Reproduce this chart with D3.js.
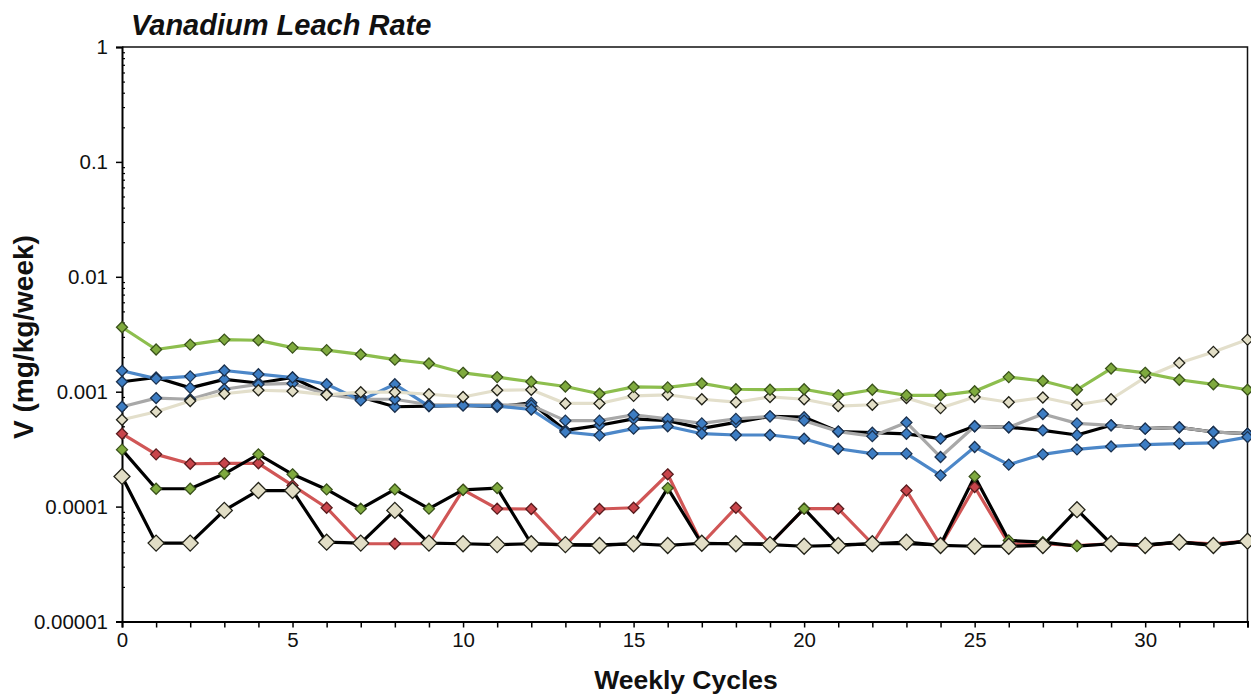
<!DOCTYPE html>
<html>
<head>
<meta charset="utf-8">
<script src="https://cdn.jsdelivr.net/npm/d3@7"></script>
<style>
  html, body { margin: 0; padding: 0; background: #fff; }
  svg { display: block; }
  text { font-family: "Liberation Sans", Arial, sans-serif; }
</style>
</head>
<body>
<svg id="chart" width="1251" height="698"></svg>
<script>
// Weekly cycle numbers 0..33
const cycles = [0,1,2,3,4,5,6,7,8,9,10,11,12,13,14,15,16,17,18,19,20,21,22,23,24,25,26,27,28,29,30,31,32,33];

// Leach rate series (mg/kg/week)
const greenSeries = [0.00364,0.00233,0.00257,0.00284,0.00280,0.00242,0.00230,0.00211,0.00190,0.00176,0.00146,0.00134,0.00122,0.00111,0.00096,0.00110,0.00109,0.00118,0.00105,0.00104,0.00105,0.00093,0.00104,0.00093,0.00093,0.00101,0.00134,0.00124,0.00104,0.00159,0.00146,0.00127,0.00116,0.00104];
const beigeSeries = [0.00057,0.00067,0.00083,0.00096,0.00103,0.00101,0.00094,0.00099,0.00099,0.00095,0.00090,0.00103,0.00104,0.00079,0.00079,0.00092,0.00094,0.00086,0.00081,0.00090,0.00086,0.00075,0.00077,0.00088,0.00072,0.00090,0.00081,0.00089,0.00077,0.00086,0.00133,0.00178,0.00222,0.00284];
const blueSeries = [0.00152,0.00130,0.00136,0.00153,0.00142,0.00133,0.00116,0.00084,0.00116,0.00075,0.00076,0.00075,0.00070,0.000446,0.000417,0.000477,0.00050,0.000431,0.00042,0.00042,0.00039,0.000319,0.000289,0.000289,0.000187,0.00033,0.000232,0.000285,0.000315,0.000334,0.000346,0.000353,0.000358,0.000403];
const blackBlueSeries = [0.00122,0.00133,0.00108,0.00128,0.00119,0.00133,0.00095,0.00090,0.00074,0.00075,0.00076,0.00074,0.00080,0.00046,0.00051,0.00058,0.00056,0.00048,0.00054,0.00061,0.00060,0.00045,0.00044,0.00043,0.00039,0.00050,0.00049,0.00046,0.00042,0.00051,0.000477,0.00049,0.000446,0.000431];
const greyBlueSeries = [0.00074,0.00088,0.00086,0.00105,0.00116,0.00118,0.00095,0.00086,0.00086,0.00077,0.00077,0.00077,0.00076,0.00056,0.00056,0.00063,0.00058,0.00053,0.00058,0.00061,0.00056,0.00045,0.00041,0.00054,0.00027,0.00050,0.00049,0.00064,0.00053,0.00051,0.000477,0.00049,0.000446,0.000431];
const redSeries = [0.000431,0.000285,0.000236,0.000238,0.000238,0.000153,0.0000977,0.0000475,0.0000475,0.0000475,0.00014,0.0000959,0.0000953,0.0000459,0.0000953,0.0000977,0.000191,0.0000475,0.0000977,0.0000475,0.0000959,0.0000959,0.0000475,0.000138,0.0000459,0.000148,0.0000475,0.0000475,0.0000457,0.0000475,0.0000457,0.000049,0.0000475,0.00005];
const blackGreenSeries = [0.000313,0.000143,0.000143,0.000193,0.000285,0.000191,0.000141,0.0000959,0.000141,0.0000959,0.00014,0.000145,0.0000475,0.0000465,0.0000465,0.0000475,0.000145,0.0000475,0.0000475,0.0000475,0.0000959,0.0000465,0.0000475,0.0000475,0.0000465,0.000183,0.0000508,0.000049,0.0000453,0.0000475,0.0000465,0.000049,0.0000465,0.00005];
const blackBeigeSeries = [0.000183,0.0000481,0.0000481,0.0000927,0.000138,0.000138,0.000049,0.0000481,0.0000927,0.0000481,0.0000475,0.0000467,0.0000475,0.0000467,0.0000459,0.0000475,0.0000459,0.000048,0.0000475,0.0000467,0.0000452,0.0000459,0.0000475,0.000049,0.0000459,0.0000452,0.0000452,0.0000459,0.000094,0.0000475,0.0000459,0.000049,0.0000459,0.00005];

// Axis ticks and labels
const yMajorTicks = [1, 0.1, 0.01, 0.001, 0.0001, 0.00001];
const yTickLabels = ["1", "0.1", "0.01", "0.001", "0.0001", "0.00001"];
const xLabelTicks = [0, 5, 10, 15, 20, 25, 30];

const svg = d3.select("#chart");
const plotLeft = 122, plotRight = 1247.5, plotTop = 47, plotBottom = 621.5;

const x = d3.scaleLinear().domain([0, 33]).range([plotLeft, plotRight]);
const y = d3.scaleLog().domain([0.00001, 1]).range([plotBottom, plotTop]);

// Series drawing order and styling (back to front)
const seriesList = [
  { values: redSeries, line: "#D05656", fill: "#C8454B", stroke: "#5A1C1E", size: 5.5 },
  { values: blackGreenSeries, line: "#000000", fill: "#7FAA3E", stroke: "#3A521B", size: 5.5 },
  { values: blackBeigeSeries, line: "#000000", fill: "#E2DEC6", stroke: "#222218", size: 8 },
  { values: blackBlueSeries, line: "#000000", fill: "#3D7DC3", stroke: "#1B314E", size: 5.5 },
  { values: greyBlueSeries, line: "#A8A8A8", fill: "#3D7DC3", stroke: "#1B314E", size: 5.5 },
  { values: blueSeries, line: "#4C87C8", fill: "#3D7DC3", stroke: "#1B314E", size: 5.5 },
  { values: beigeSeries, line: "#E3DFCB", fill: "#E2DEC6", stroke: "#222218", size: 5.5 },
  { values: greenSeries, line: "#8DBE4E", fill: "#7FAA3E", stroke: "#3A521B", size: 5.5 }
];

// Plot frame (top and right edges)
svg.append("path")
  .attr("d", `M${plotLeft},${plotTop}H${plotRight}V${plotBottom}`)
  .attr("fill", "none").attr("stroke", "#111").attr("stroke-width", 1.5);

// Minor log ticks on the y axis (pointing inward)
const minorTicks = [];
for (let e = -5; e < 0; e++) {
  for (let m = 2; m <= 9; m++) minorTicks.push(m * Math.pow(10, e));
}
svg.append("g")
  .attr("transform", `translate(${plotLeft},0)`)
  .call(d3.axisLeft(y).tickValues(minorTicks).tickSize(-3).tickFormat(""))
  .call(g => g.select(".domain").remove())
  .call(g => g.selectAll("line").attr("stroke", "#000").attr("stroke-width", 1.2));

// Major y axis
const yAxis = svg.append("g")
  .attr("transform", `translate(${plotLeft},0)`)
  .call(d3.axisLeft(y).tickValues(yMajorTicks).tickSizeOuter(0).tickSize(6).tickPadding(8)
    .tickFormat((d, i) => yTickLabels[i]));
yAxis.select(".domain").attr("stroke", "#000").attr("stroke-width", 2);
yAxis.selectAll("line").attr("stroke", "#000").attr("stroke-width", 1.5);
yAxis.selectAll("text").attr("font-size", 20.5).attr("fill", "#111")
  .attr("font-family", "'Liberation Sans', Arial, sans-serif");

// x axis: a tick each cycle, labels every five
const xAxis = svg.append("g")
  .attr("transform", `translate(0,${plotBottom})`)
  .call(d3.axisBottom(x).tickValues(cycles).tickSizeOuter(0).tickSize(6).tickPadding(5)
    .tickFormat(d => xLabelTicks.includes(d) ? String(d) : ""));
xAxis.select(".domain").attr("stroke", "#000").attr("stroke-width", 2);
xAxis.selectAll("line").attr("stroke", "#000").attr("stroke-width", 1.5);
xAxis.selectAll("text").attr("font-size", 20.5).attr("fill", "#111")
  .attr("font-family", "'Liberation Sans', Arial, sans-serif");

// Lines, then diamond markers for each series
const lineGen = d3.line().x((d, i) => x(cycles[i])).y(d => y(d));
const diamond = s => `M0,${-s}L${s},0L0,${s}L${-s},0Z`;

seriesList.forEach(s => {
  svg.append("path")
    .datum(s.values)
    .attr("d", lineGen)
    .attr("fill", "none")
    .attr("stroke", s.line)
    .attr("stroke-width", 3.2)
    .attr("stroke-linejoin", "round");
});
seriesList.forEach(s => {
  svg.append("g").selectAll("path")
    .data(s.values)
    .join("path")
    .attr("transform", (d, i) => `translate(${x(cycles[i])},${y(d)})`)
    .attr("d", diamond(s.size))
    .attr("fill", s.fill)
    .attr("stroke", s.stroke)
    .attr("stroke-width", 1.3);
});

// Titles
svg.append("text")
  .attr("x", 131).attr("y", 35)
  .attr("font-size", 29).attr("font-weight", "bold").attr("font-style", "italic")
  .attr("fill", "#111")
  .text("Vanadium Leach Rate");

svg.append("text")
  .attr("x", 686).attr("y", 689)
  .attr("text-anchor", "middle")
  .attr("font-size", 26.5).attr("font-weight", "bold").attr("fill", "#111")
  .text("Weekly Cycles");

svg.append("text")
  .attr("transform", `translate(33,337) rotate(-90)`)
  .attr("text-anchor", "middle")
  .attr("font-size", 28).attr("font-weight", "bold").attr("fill", "#111")
  .text("V (mg/kg/week)");
</script>
</body>
</html>
